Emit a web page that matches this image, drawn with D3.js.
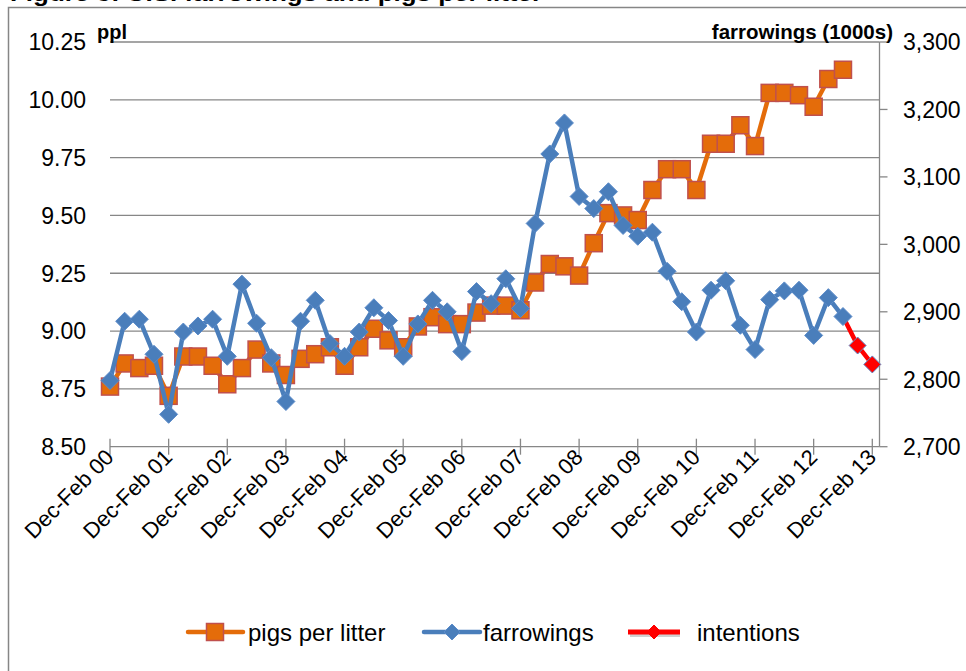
<!DOCTYPE html>
<html>
<head>
<meta charset="utf-8">
<script src="https://cdn.jsdelivr.net/npm/d3@7"></script>
<style>
	body { margin: 0; background: #fff; }
	svg { display: block; font-family: "Liberation Sans", Arial, sans-serif; }
</style>
</head>
<body>
<div id="chart"></div>
<script>
/*
 * Farrowings and pigs per litter, quarterly, Dec-Feb 2000 to Dec-Feb 2013.
 * Pigs per litter on the left axis, farrowings (1000s) on the right axis.
 */

// Tick labels on the x axis, one per year (every 4th quarter)
var tickLabels = ["Dec-Feb 00", "Dec-Feb 01", "Dec-Feb 02", "Dec-Feb 03", "Dec-Feb 04",
	"Dec-Feb 05", "Dec-Feb 06", "Dec-Feb 07", "Dec-Feb 08", "Dec-Feb 09",
	"Dec-Feb 10", "Dec-Feb 11", "Dec-Feb 12", "Dec-Feb 13"];

// pigs per litter, quarter 0 .. 50
var pigsPerLitter = [8.76, 8.86, 8.84, 8.85, 8.72, 8.89, 8.89, 8.85, 8.77, 8.84,
	8.92, 8.86, 8.81, 8.88, 8.90, 8.93, 8.85, 8.93, 9.01, 8.96,
	8.93, 9.02, 9.06, 9.03, 9.03, 9.08, 9.11, 9.11, 9.09, 9.21,
	9.29, 9.28, 9.24, 9.38, 9.51, 9.50, 9.48, 9.61, 9.70, 9.70,
	9.61, 9.81, 9.81, 9.89, 9.80, 10.03, 10.03, 10.02, 9.97, 10.09,
	10.13];

// farrowings (1000s), quarter 0 .. 50
var farrowings = [2798, 2886, 2889, 2837, 2748, 2870, 2879, 2889, 2834, 2941,
	2883, 2832, 2767, 2886, 2917, 2853, 2834, 2870, 2906, 2887,
	2834, 2882, 2917, 2900, 2841, 2930, 2912, 2949, 2905, 3031,
	3134, 3180, 3071, 3053, 3078, 3028, 3012, 3018, 2960, 2915,
	2870, 2932, 2946, 2880, 2844, 2918, 2931, 2932, 2865, 2921,
	2893];

// farrowing intentions, starting at quarter 50
var intentionsStart = 50;
var intentions = [2893, 2850, 2822];

var leftTicks = [8.50, 8.75, 9.00, 9.25, 9.50, 9.75, 10.00, 10.25];
var rightTicks = [2700, 2800, 2900, 3000, 3100, 3200, 3300];

var W = 966, H = 671;
var plotLeft = 110, plotRight = 879.5, plotTop = 42, plotBottom = 446.7;
var lastTickX = 872.3;

var gridColor = "#878787";
var orange = "#E46C0A", orangeEdge = "#C0504D";
var blue = "#4A7EBB", blueEdge = "#5B8BC9";
var red = "#FF0000";

var svg = d3.select("#chart").append("svg").attr("width", W).attr("height", H);

// scales
var nQuarters = (tickLabels.length - 1) * 4;
var x = d3.scaleLinear().domain([0, nQuarters]).range([plotLeft, lastTickX]);
var yL = d3.scaleLinear().domain([8.5, 10.25]).range([plotBottom, plotTop]);
var yR = d3.scaleLinear().domain([2700, 3300]).range([plotBottom, plotTop]);

// title, mostly cropped off the top of the picture
svg.append("text").attr("x", 10).attr("y", 0.5)
	.attr("font-size", 22).attr("font-weight", "bold")
	.attr("textLength", 532).attr("lengthAdjust", "spacingAndGlyphs")
	.text("Figure 3: U.S. farrowings and pigs per litter");

// chart border
svg.append("rect").attr("x", 8.5).attr("y", 7.5).attr("width", 1000).attr("height", 700)
	.attr("fill", "none").attr("stroke", "#868686").attr("stroke-width", 1.5);

// horizontal gridlines for the left axis
svg.append("g").selectAll("line").data(leftTicks.slice(1)).enter().append("line")
	.attr("x1", plotLeft).attr("x2", plotRight)
	.attr("y1", function(d) { return yL(d); }).attr("y2", function(d) { return yL(d); })
	.attr("stroke", gridColor).attr("stroke-width", 1.3);

// left tick labels
svg.append("g").selectAll("text").data(leftTicks).enter().append("text")
	.attr("x", 86).attr("y", function(d) { return yL(d); }).attr("dy", "0.36em")
	.attr("text-anchor", "end").attr("font-size", 23)
	.text(function(d) { return d3.format(".2f")(d); });

// right axis line, ticks and labels
svg.append("line").attr("x1", plotRight).attr("x2", plotRight)
	.attr("y1", plotTop).attr("y2", plotBottom)
	.attr("stroke", gridColor).attr("stroke-width", 1.3);
svg.append("g").selectAll("line").data(rightTicks).enter().append("line")
	.attr("x1", plotRight).attr("x2", plotRight + 8)
	.attr("y1", function(d) { return yR(d); }).attr("y2", function(d) { return yR(d); })
	.attr("stroke", gridColor).attr("stroke-width", 1.3);
svg.append("g").selectAll("text").data(rightTicks).enter().append("text")
	.attr("x", 903).attr("y", function(d) { return yR(d); }).attr("dy", "0.36em")
	.attr("font-size", 23)
	.text(function(d) { return d3.format(",")(d); });

// x axis line and crossing tick marks
svg.append("line").attr("x1", plotLeft).attr("x2", plotRight)
	.attr("y1", plotBottom).attr("y2", plotBottom)
	.attr("stroke", gridColor).attr("stroke-width", 1.3);
svg.append("g").selectAll("line").data(tickLabels).enter().append("line")
	.attr("x1", function(d, i) { return x(i * 4); }).attr("x2", function(d, i) { return x(i * 4); })
	.attr("y1", plotBottom - 8).attr("y2", plotBottom + 8)
	.attr("stroke", gridColor).attr("stroke-width", 1.3);

// x tick labels, rotated 45 degrees
svg.append("g").selectAll("text").data(tickLabels).enter().append("text")
	.attr("transform", function(d, i) { return "translate(" + (x(i * 4) + 5) + "," + (plotBottom + 12) + ") rotate(-45)"; })
	.attr("text-anchor", "end").attr("font-size", 22)
	.text(function(d) { return d; });

// axis titles
svg.append("text").attr("x", 97).attr("y", 39).attr("font-size", 20).attr("font-weight", "bold").text("ppl");
svg.append("text").attr("x", 893).attr("y", 39).attr("text-anchor", "end")
	.attr("font-size", 20.5).attr("font-weight", "bold").text("farrowings (1000s)");

// marker shapes
function diamond(r) {
	return "M0," + (-r) + "L" + r + ",0L0," + r + "L" + (-r) + ",0Z";
}

// pigs per litter: orange line with square markers
var lineL = d3.line().x(function(d, i) { return x(i); }).y(function(d) { return yL(d); });
svg.append("path").datum(pigsPerLitter).attr("d", lineL)
	.attr("fill", "none").attr("stroke", orange).attr("stroke-width", 4.5).attr("stroke-linejoin", "round");
svg.append("g").selectAll("rect").data(pigsPerLitter).enter().append("rect")
	.attr("x", function(d, i) { return x(i) - 8.5; }).attr("y", function(d) { return yL(d) - 8.5; })
	.attr("width", 17).attr("height", 17)
	.attr("fill", orange).attr("stroke", orangeEdge).attr("stroke-width", 1.5);

// intentions: red line with red diamonds
var lineI = d3.line().x(function(d, i) { return x(intentionsStart + i); }).y(function(d) { return yR(d); });
svg.append("path").datum(intentions).attr("d", lineI)
	.attr("fill", "none").attr("stroke", red).attr("stroke-width", 4.5);
svg.append("g").selectAll("path").data(intentions.slice(1)).enter().append("path")
	.attr("transform", function(d, i) { return "translate(" + x(intentionsStart + 1 + i) + "," + yR(d) + ")"; })
	.attr("d", diamond(8.5)).attr("fill", red).attr("stroke", blueEdge).attr("stroke-width", 1);

// farrowings: blue line with diamond markers
var lineR = d3.line().x(function(d, i) { return x(i); }).y(function(d) { return yR(d); });
svg.append("path").datum(farrowings).attr("d", lineR)
	.attr("fill", "none").attr("stroke", blue).attr("stroke-width", 4.5).attr("stroke-linejoin", "round");
svg.append("g").selectAll("path").data(farrowings).enter().append("path")
	.attr("transform", function(d, i) { return "translate(" + x(i) + "," + yR(d) + ")"; })
	.attr("d", diamond(9)).attr("fill", blue).attr("stroke", blueEdge).attr("stroke-width", 1);

// legend
var ly = 632;
var legend = svg.append("g");
legend.append("line").attr("x1", 188).attr("x2", 243).attr("y1", ly).attr("y2", ly)
	.attr("stroke", orange).attr("stroke-width", 4.5).attr("stroke-linecap", "round");
legend.append("rect").attr("x", 215 - 8.5).attr("y", ly - 8.5).attr("width", 17).attr("height", 17)
	.attr("fill", orange).attr("stroke", orangeEdge).attr("stroke-width", 1.5);
legend.append("text").attr("x", 248).attr("y", ly + 8.5).attr("font-size", 24).text("pigs per litter");

legend.append("line").attr("x1", 424).attr("x2", 480).attr("y1", ly).attr("y2", ly)
	.attr("stroke", blue).attr("stroke-width", 4.5).attr("stroke-linecap", "round");
legend.append("path").attr("transform", "translate(452," + ly + ")")
	.attr("d", diamond(8)).attr("fill", blue).attr("stroke", blueEdge).attr("stroke-width", 1);
legend.append("text").attr("x", 483).attr("y", ly + 8.5).attr("font-size", 24).text("farrowings");

legend.append("line").attr("x1", 630).attr("x2", 680).attr("y1", ly + 3).attr("y2", ly + 3)
	.attr("stroke", "#d0d0d0").attr("stroke-width", 4);
legend.append("line").attr("x1", 628).attr("x2", 680).attr("y1", ly).attr("y2", ly)
	.attr("stroke", red).attr("stroke-width", 5);
legend.append("path").attr("transform", "translate(654," + ly + ")")
	.attr("d", diamond(7)).attr("fill", red).attr("stroke", red).attr("stroke-width", 1);
legend.append("text").attr("x", 697).attr("y", ly + 8.5).attr("font-size", 24).text("intentions");
</script>
</body>
</html>
